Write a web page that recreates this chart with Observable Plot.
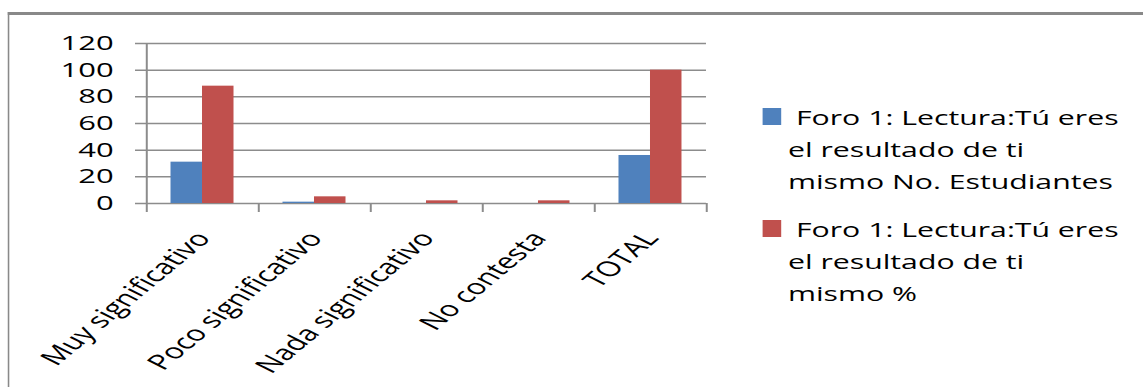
<!DOCTYPE html>
<html>
<head>
<meta charset="utf-8">
<script src="https://cdn.jsdelivr.net/npm/d3@7"></script>
<script src="https://cdn.jsdelivr.net/npm/@observablehq/plot@0.6"></script>
<style>
  html, body { margin: 0; padding: 0; background: #fff; overflow: hidden; }
  #stage { position: absolute; left: 0; top: 0; height: 387px; transform-origin: 0 0; font-family: "Open Sans", sans-serif; color: #000; }
  #frame { position: absolute; border-style: solid; border-color: #898989; border-right: none; border-bottom: none; box-sizing: border-box; }
  #stage svg { position: absolute; left: 0; top: 0; overflow: visible; }
  .entry { position: absolute; }
  .key { position: absolute; left: 0; }
  .label { white-space: nowrap; }
</style>
</head>
<body>
<div id="stage"><div id="frame"></div></div>
<script>
// ---- data ----
const categories = ["Muy significativo", "Poco significativo", "Nada significativo", "No contesta", "TOTAL"];
const estudiantes = [31, 1, 0, 0, 36];
const porcentaje = [88, 5, 2, 2, 100];
const seriesLabelLines = [
  ["Foro 1: Lectura:Tú eres", "el resultado de ti", "mismo No. Estudiantes"],
  ["Foro 1: Lectura:Tú eres", "el resultado de ti", "mismo %"]
];
const seriesColors = ["#4F81BD", "#C0504D"];
const yTicks = [0, 20, 40, 60, 80, 100, 120];

// ---- layout (the original picture is stretched horizontally) ----
const S = 1.55;
const W = 1143 / S, H = 387;
const plotLeft = 146 / S, plotRight = 706 / S, plotTop = 43, plotBottom = 203;
const bw = (plotRight - plotLeft) / categories.length;
const barW = 31.5 / S;
const axisColor = "#8c8c8c";

const stage = document.getElementById("stage");
stage.style.width = W + "px";
stage.style.transform = `scaleX(${S})`;

const frame = document.getElementById("frame");
frame.style.left = (8 / S) + "px";
frame.style.top = "12px";
frame.style.width = (W + 20) + "px";
frame.style.height = (H + 20) + "px";
frame.style.borderLeftWidth = (3 / S) + "px";
frame.style.borderTopWidth = "3px";

const rows = categories.map((c, i) => ({categoria: c, estudiantes: estudiantes[i], porcentaje: porcentaje[i]}));
const yMax = yTicks[yTicks.length - 1];

const chart = Plot.plot({
  width: W,
  height: H,
  marginLeft: plotLeft,
  marginRight: W - plotRight,
  marginTop: plotTop,
  marginBottom: H - plotBottom,
  style: {background: "transparent", color: "#000", fontFamily: "'Open Sans', sans-serif", overflow: "visible"},
  x: {type: "band", domain: categories, padding: 0, round: false, axis: null},
  y: {domain: [0, yMax], label: null},
  marks: [
    Plot.ruleY(yTicks, {stroke: axisColor, strokeWidth: 1.5, insetLeft: -11 / S}),
    Plot.barY(rows, {x: "categoria", y: "estudiantes", fill: seriesColors[0], insetLeft: bw / 2 - barW, insetRight: bw / 2}),
    Plot.barY(rows, {x: "categoria", y: "porcentaje", fill: seriesColors[1], insetLeft: bw / 2, insetRight: bw / 2 - barW}),
    Plot.ruleX([categories[0]], {x: d => d, dx: -bw / 2, y1: yMax, y2: 0, insetBottom: -9, stroke: axisColor, strokeWidth: 2 / S}),
    Plot.ruleX(categories.slice(1), {x: d => d, dx: -bw / 2, y1: 0, y2: 0, insetBottom: -9, stroke: axisColor, strokeWidth: 2 / S}),
    Plot.ruleX([categories[categories.length - 1]], {x: d => d, dx: bw / 2, y1: 0, y2: 0, insetBottom: -9, stroke: axisColor, strokeWidth: 2 / S}),
    Plot.axisY({ticks: yTicks, tickSize: 0, tickPadding: plotLeft - 113 / S, fontSize: 20, label: null, tickFormat: d => String(d)}),
    Plot.text(categories, {x: d => d, frameAnchor: "bottom", rotate: -52, textAnchor: "end", lineAnchor: "top", dy: 26, dx: -6, fontSize: 21, fill: "#000"})
  ]
});
stage.appendChild(chart);

// ---- legend ----
const legendTops = [101.5, 213.5];
seriesLabelLines.forEach((lines, i) => {
  const entry = document.createElement("div");
  entry.className = "entry";
  entry.style.left = (762 / S) + "px";
  entry.style.top = legendTops[i] + "px";
  const key = document.createElement("div");
  key.className = "key";
  key.style.top = "6.5px";
  key.style.width = (19 / S) + "px";
  key.style.height = "17px";
  key.style.background = seriesColors[i];
  entry.appendChild(key);
  const label = document.createElement("div");
  label.className = "label";
  label.style.marginLeft = ((788 - 762) / S) + "px";
  label.style.textIndent = ((796 - 788) / S) + "px";
  label.style.fontSize = "19.5px";
  label.style.lineHeight = "32px";
  lines.forEach((t, k) => {
    if (k) label.appendChild(document.createElement("br"));
    label.appendChild(document.createTextNode(t));
  });
  entry.appendChild(label);
  stage.appendChild(entry);
});
</script>
</body>
</html>
